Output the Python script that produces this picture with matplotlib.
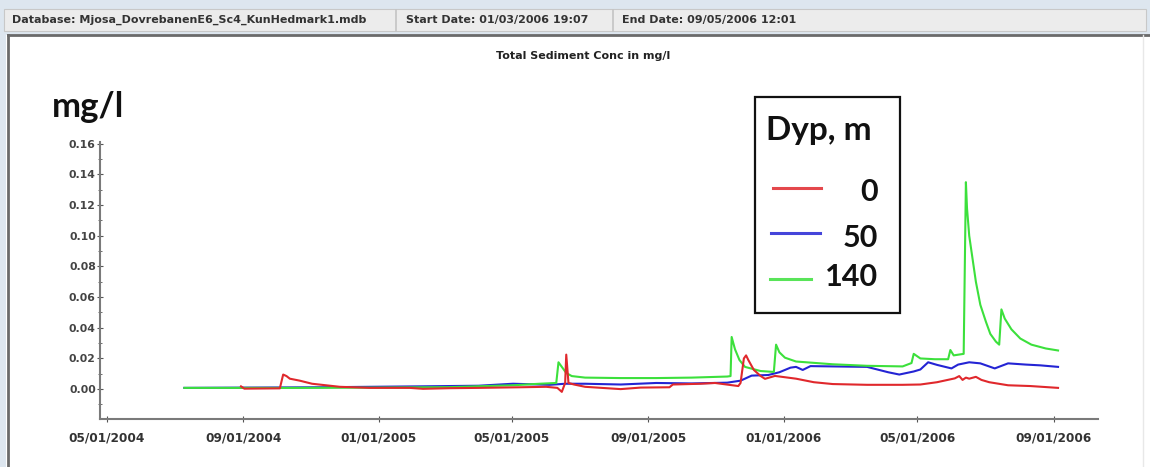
import matplotlib
matplotlib.use('Agg')
import matplotlib.pyplot as plt
import matplotlib.dates as mdates
from matplotlib.patches import Rectangle
from matplotlib.lines import Line2D
import pandas as pd
import numpy as np

# depth 0 m
red_dates = ['2004-08-30', '2004-09-02', '2004-10-04', '2004-10-07', '2004-10-10', '2004-10-13',
             '2004-10-22', '2004-11-02', '2004-11-27', '2004-12-24', '2005-01-29', '2005-02-10',
             '2005-03-06', '2005-04-01', '2005-05-08', '2005-06-01', '2005-06-11', '2005-06-15',
             '2005-06-18', '2005-06-19', '2005-06-21', '2005-06-26', '2005-07-06', '2005-08-07',
             '2005-08-25', '2005-09-20', '2005-09-23', '2005-10-18', '2005-10-31', '2005-11-21',
             '2005-11-23', '2005-11-26', '2005-11-28', '2005-11-30', '2005-12-05', '2005-12-11',
             '2005-12-15', '2005-12-24', '2006-01-12', '2006-01-28', '2006-02-14', '2006-03-17',
             '2006-04-18', '2006-05-04', '2006-05-19', '2006-06-04', '2006-06-08', '2006-06-11',
             '2006-06-14', '2006-06-17', '2006-06-23', '2006-06-28', '2006-07-05', '2006-07-22',
             '2006-08-11', '2006-09-05']
red_vals = [0.0018, 0.0003, 0.0005, 0.0095, 0.0085, 0.0068,
            0.0055, 0.0035, 0.0015, 0.0008, 0.0008, 0.0002,
            0.0006, 0.0008, 0.0012, 0.0015, 0.0008, -0.0018,
            0.004, 0.0225, 0.004, 0.003, 0.0015, 0.0,
            0.001, 0.0012, 0.003, 0.0035, 0.004, 0.002,
            0.004, 0.020, 0.022, 0.019, 0.0125, 0.0086,
            0.0067, 0.0086, 0.0068, 0.0045, 0.0033, 0.0028,
            0.0028, 0.003, 0.0045, 0.007, 0.0085, 0.006,
            0.0075, 0.0068, 0.008, 0.006, 0.0045, 0.0025,
            0.002, 0.0008]

# depth 50 m
blue_dates = ['2004-07-10', '2004-11-09', '2005-02-07', '2005-04-01', '2005-05-02', '2005-06-04',
              '2005-06-18', '2005-07-06', '2005-08-07', '2005-09-08', '2005-10-10', '2005-11-11',
              '2005-11-23', '2005-12-03', '2005-12-18', '2005-12-28', '2006-01-07', '2006-01-12',
              '2006-01-18', '2006-01-25', '2006-02-14', '2006-03-17', '2006-04-05', '2006-04-15',
              '2006-04-28', '2006-05-04', '2006-05-11', '2006-05-19', '2006-06-01', '2006-06-07',
              '2006-06-17', '2006-06-27', '2006-07-10', '2006-07-22', '2006-08-07', '2006-08-20',
              '2006-09-05']
blue_vals = [0.0008, 0.0012, 0.0018, 0.0022, 0.0035, 0.0028,
             0.0035, 0.0035, 0.003, 0.004, 0.0037, 0.0042,
             0.0055, 0.0088, 0.0092, 0.011, 0.014, 0.0145,
             0.0125, 0.015, 0.0148, 0.0145, 0.011, 0.0095,
             0.0115, 0.0128, 0.0175, 0.0158, 0.0135, 0.016,
             0.0175, 0.0168, 0.0135, 0.0168, 0.016, 0.0155,
             0.0145]

# depth 140 m
green_dates = ['2004-07-10', '2004-10-22', '2005-01-01', '2005-03-06', '2005-05-02', '2005-05-26',
               '2005-06-10', '2005-06-12', '2005-06-15', '2005-06-19', '2005-06-24', '2005-07-06',
               '2005-08-07', '2005-09-08', '2005-10-10', '2005-11-11', '2005-11-14', '2005-11-15',
               '2005-11-18', '2005-11-22', '2005-11-27', '2005-12-11', '2005-12-23', '2005-12-25',
               '2005-12-28', '2006-01-02', '2006-01-12', '2006-02-14', '2006-03-17', '2006-04-18',
               '2006-04-26', '2006-04-28', '2006-05-04', '2006-05-17', '2006-05-29', '2006-05-31',
               '2006-06-03', '2006-06-12', '2006-06-14', '2006-06-15', '2006-06-17', '2006-06-20',
               '2006-06-23', '2006-06-27', '2006-07-02', '2006-07-06', '2006-07-11', '2006-07-14',
               '2006-07-16', '2006-07-19', '2006-07-25', '2006-08-02', '2006-08-12', '2006-08-25',
               '2006-09-05']
green_vals = [0.0008, 0.0008, 0.001, 0.0013, 0.0025, 0.0035,
              0.004, 0.0175, 0.0145, 0.0105, 0.0085, 0.0075,
              0.0072, 0.0072, 0.0075, 0.0082, 0.0085, 0.034,
              0.026, 0.019, 0.0145, 0.0118, 0.0112, 0.029,
              0.024, 0.0205, 0.018, 0.0162, 0.0152, 0.0148,
              0.017, 0.023, 0.020, 0.0195, 0.0195, 0.0255,
              0.022, 0.023, 0.135, 0.118, 0.100, 0.085,
              0.07, 0.055, 0.044, 0.036, 0.031, 0.029,
              0.052, 0.046, 0.039, 0.033, 0.029, 0.0265,
              0.0252]

depth_labels = ['0', '50', '140']
colors = ['#e0282c', '#2424d4', '#3ce03c']

W, H = 1150, 467
fig = plt.figure(figsize=(W / 100, H / 100), dpi=100)
fig.patch.set_facecolor('white')

def fx(x):
    return x / W

def fy(y):
    return 1 - y / H

# window frame / header strip
fig.add_artist(Rectangle((0, fy(35)), 1, 1 - fy(35), transform=fig.transFigure,
                         facecolor='#dde6ef', edgecolor='none'))
fig.add_artist(Rectangle((fx(4), fy(31)), fx(1142), fy(9) - fy(31), transform=fig.transFigure,
                         facecolor='#ececec', edgecolor='#c8c8c8', lw=0.8))
for sx in [396, 613]:
    fig.add_artist(Line2D([fx(sx), fx(sx)], [fy(10), fy(31)], transform=fig.transFigure,
                          color='#c4c4c4', lw=1.2))
fig.add_artist(Rectangle((0, 0), fx(6), fy(35), transform=fig.transFigure,
                         facecolor='#dde6ef', edgecolor='none'))
fig.add_artist(Line2D([fx(8), fx(8)], [0, fy(35)], transform=fig.transFigure, color='#6a6a6a', lw=2))
fig.add_artist(Line2D([fx(8), 1], [fy(35), fy(35)], transform=fig.transFigure, color='#6a6a6a', lw=2))
fig.add_artist(Line2D([fx(1143), fx(1143)], [0, fy(35)], transform=fig.transFigure, color='#e8e8e8', lw=1))

hdr = dict(fontsize=8, fontweight='bold', color='#333333', va='center', ha='left',
           family='DejaVu Sans')
fig.text(fx(12), fy(20), 'Database: Mjosa_DovrebanenE6_Sc4_KunHedmark1.mdb', **hdr)
fig.text(fx(406), fy(20), 'Start Date: 01/03/2006 19:07', **hdr)
fig.text(fx(622), fy(20), 'End Date: 09/05/2006 12:01', **hdr)

fig.text(fx(583), fy(56), 'Total Sediment Conc in mg/l', fontsize=8, fontweight='bold',
         color='#222222', ha='center', va='center')

fig.text(fx(52), fy(117), 'mg/l', fontsize=25, fontweight='bold', family='Lato',
         color='#111111', ha='left', va='baseline')

ax = fig.add_axes([fx(100), fy(419), fx(1098) - fx(100), fy(142) - fy(419)])
series = [(blue_dates, blue_vals, colors[1]),
          (green_dates, green_vals, colors[2]),
          (red_dates, red_vals, colors[0])]
for d, v, c in series:
    ax.plot(pd.to_datetime(d), v, color=c, lw=1.5)

ax.set_xlim(pd.Timestamp('2004-04-25'), pd.Timestamp('2006-10-11'))
ax.set_ylim(-0.0195, 0.1612)
ax.set_yticks(np.arange(0, 0.161, 0.02))
ax.set_yticks(np.arange(-0.01, 0.16, 0.02), minor=True)
ax.yaxis.set_major_formatter(plt.FuncFormatter(lambda v, p: '%.2f' % v))
ax.xaxis.set_major_locator(mdates.MonthLocator(bymonth=[1, 5, 9]))
ax.xaxis.set_major_formatter(mdates.DateFormatter('%m/%d/%Y'))

for s in ['top', 'right']:
    ax.spines[s].set_visible(False)
for s in ['left', 'bottom']:
    ax.spines[s].set_color('#7a7a7a')
    ax.spines[s].set_linewidth(1.5)
ax.tick_params(axis='both', which='both', color='#555555', direction='inout')
ax.tick_params(axis='y', which='major', length=4, labelsize=7.8, labelcolor='#444444', pad=1)
ax.tick_params(axis='y', which='minor', length=3)
ax.tick_params(axis='x', which='major', length=4, labelsize=8.7, labelcolor='#333333', pad=7)
for lab in ax.get_xticklabels() + ax.get_yticklabels():
    lab.set_fontweight('bold')

# legend box
fig.add_artist(Rectangle((fx(755), fy(313)), fx(900) - fx(755), fy(97) - fy(313),
                         transform=fig.transFigure, facecolor='white', edgecolor='#111111', lw=1.6))
fig.text(fx(766), fy(140), 'Dyp, m', fontsize=24, fontweight='bold', family='Lato',
         color='#111111', ha='left', va='baseline')
leg_y = [188, 233, 279]
leg_x0 = [773, 771, 770]
leg_x1 = [821, 820, 811]
base_y = [201, 247, 286]
for lab, c, yl, x0, x1, yb in zip(depth_labels, colors, leg_y, leg_x0, leg_x1, base_y):
    fig.add_artist(Line2D([fx(x0), fx(x1)], [fy(yl), fy(yl)], transform=fig.transFigure,
                          color=c, lw=2.2, alpha=0.85))
    fig.text(fx(878), fy(yb), lab, fontsize=22, fontweight='bold', family='Lato',
             color='#111111', ha='right', va='baseline')

fig.savefig('out.png', dpi=100)
